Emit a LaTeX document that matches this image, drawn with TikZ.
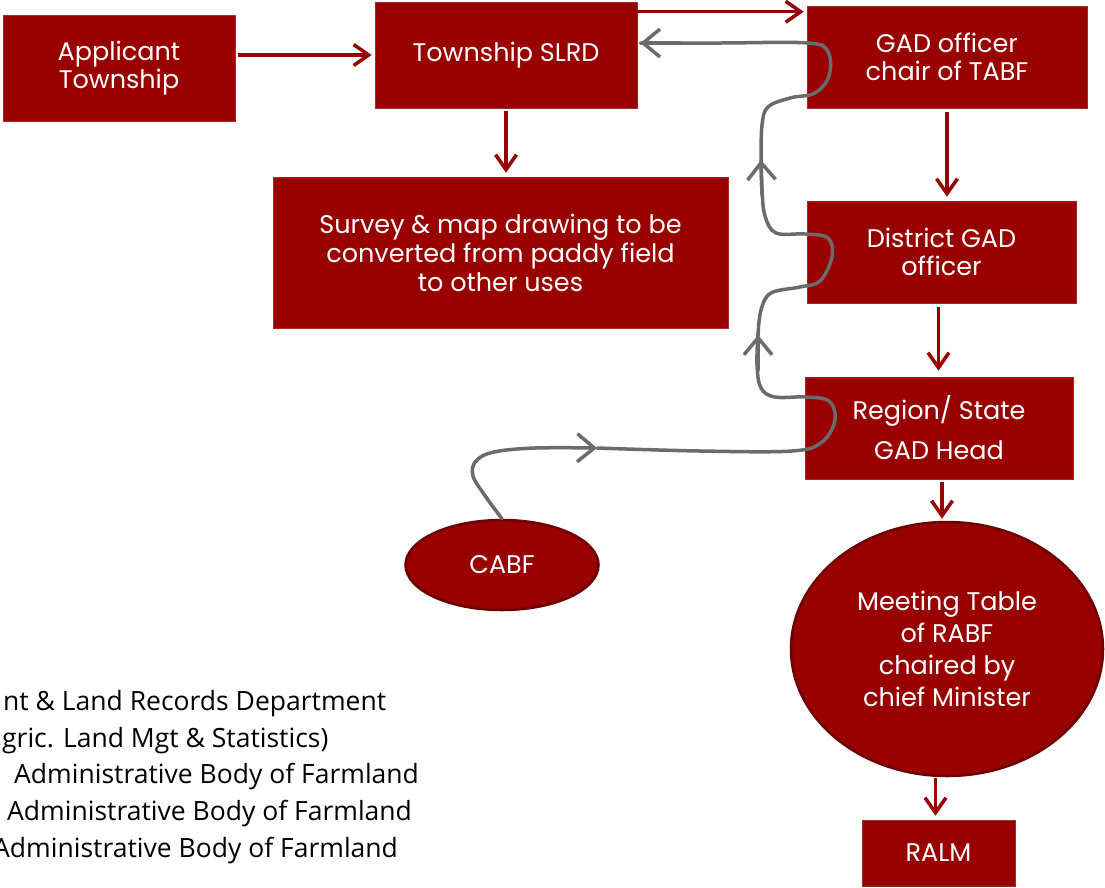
\documentclass[tikz,border=0pt]{standalone}
\usepackage{fontspec}
\setmainfont{Poppins}
\newfontfamily\legendfont{Open Sans}
\usetikzlibrary{arrows.meta,calc,shapes.geometric}
\definecolor{boxred}{HTML}{990000}
\definecolor{rimred}{HTML}{6E0000}
\definecolor{flowgrey}{HTML}{6B6B6B}
\begin{document}
\begin{tikzpicture}[x=1pt,y=-1pt,
  box/.style={rectangle,fill=boxred,draw=boxred!85!white,line width=0.6pt,text=white,align=center,inner sep=0pt,font=\fontsize{25.5}{28}\selectfont},
  oval/.style={ellipse,fill=boxred,draw=rimred,line width=2.5pt,text=white,align=center,inner sep=0pt,font=\fontsize{25.5}{32}\selectfont},
  redarrow/.style={draw=boxred,line width=3.5pt,-{Straight Barb[length=15pt,width=21pt]}},
  greyline/.style={draw=flowgrey,line width=3.5pt,line cap=round},
  greyarrow/.style={greyline,-{Straight Barb[length=17pt,width=28pt]}},
  legend/.style={anchor=base west,inner sep=0pt,font=\legendfont\fontsize{26.5}{28}\selectfont}]
\useasboundingbox (0,0) rectangle (1105,887);
\fill[white] (0,0) rectangle (1105,887);

% nodes
\node[box,minimum width=232pt,minimum height=106pt] (app) at (119,68) {Applicant\\Township};
\node[box,minimum width=262pt,minimum height=106pt] (slrd) at (506,55) {Township SLRD};
\node[box,minimum width=280pt,minimum height=102pt] (gad) at (947,57) {GAD officer\\chair of TABF};
\node[box,minimum width=455pt,minimum height=151pt,font=\fontsize{25.5}{29}\selectfont] (survey) at (500.5,252.5) {Survey \& map drawing to be\\converted from paddy field\\to other uses};
\node[box,minimum width=269pt,minimum height=102pt] (dist) at (941.5,252) {District GAD\\officer};
\node[box,minimum width=268pt,minimum height=102pt,font=\fontsize{25.5}{40}\selectfont] (reg) at (939,428) {Region/ State\\GAD Head};
\node[oval,minimum width=193pt,minimum height=90pt] (cabf) at (502,565) {CABF};
\node[oval,minimum width=312pt,minimum height=254pt] (meet) at (947,649) {Meeting Table\\of RABF\\chaired by\\chief Minister};
\node[box,minimum width=153pt,minimum height=66pt] (ralm) at (938.5,853) {RALM};

% red arrows
\draw[redarrow,shorten <=3pt,shorten >=3pt] (app.east |- slrd.west) -- (slrd.west);
\draw[redarrow,shorten >=3pt] ($(slrd.north east)+(0,10)$) -- ($(gad.north west)+(0,6)$);
\draw[redarrow,shorten <=3pt,shorten >=4pt] (slrd.south) -- (slrd.south |- survey.north);
\draw[redarrow,shorten <=4pt,shorten >=4pt] (gad.south) -- (gad.south |- dist.north);
\draw[redarrow,shorten <=4pt,shorten >=6pt] ($(dist.south)+(-3,0)$) -- ($(dist.south |- reg.north)+(-3,0)$);
\draw[redarrow,shorten <=3pt,shorten >=2pt] ($(reg.south)+(3,0)$) -- ($(reg.south |- meet.north)+(3,0)$);
\draw[redarrow,shorten <=1pt,shorten >=4pt] ($(ralm.north |- meet.south)+(-3,0)$) -- ($(ralm.north)+(-3,0)$);

% grey feedback path
\coordinate (g1) at (597,448);
\coordinate (g2) at (758,335);
\coordinate (g3) at (761,160);
\coordinate (g4) at ($(slrd.east)+(3,-12)$);
\draw[greyarrow] plot[smooth,tension=0.6] coordinates {(cabf.north) (486,497) (473,476) (476,461) (494,452) (535,448) (g1)};
\draw[greyline] plot[smooth,tension=0.6] coordinates {(g1) (700,451) (792,451) (822,442) (835,420) (829,401) (805,397) (775,397) (761,388) (757,365) (g2)};
\draw[greyarrow] (758,370) -- (g2);
\draw[greyline] plot[smooth,tension=0.6] coordinates {(g2) (761,310) (771,293) (800,287) (820,281) (832,257) (828,238) (805,234) (776,233) (765,216) (762,190) (g3)};
\draw[greyarrow] (762,195) -- (g3);
\draw[greyline] plot[smooth,tension=0.6] coordinates {(g3) (762,125) (768,107) (790,98) (815,93) (829,76) (828,52) (808,43) (720,43) (g4)};
\draw[greyarrow] (680,43) -- (g4);

% legend (clipped at left edge)
\begin{scope}
\clip (0,680) rectangle (440,880);
\node[legend] (l1) at (3,710) {nt \& Land Records Department};
\node[legend] (l2) at (2,747) {gric. Land Mgt \& Statistics)};
\node[legend] (l3) at (14,783) {Administrative Body of Farmland};
\node[legend] (l4) at (7,820) {Administrative Body of Farmland};
\node[legend] (l5) at (-7,857) {Administrative Body of Farmland};
\end{scope}
\end{tikzpicture}
\end{document}
